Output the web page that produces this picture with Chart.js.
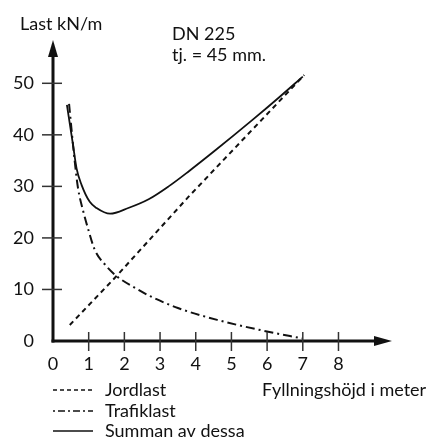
<!DOCTYPE html>
<html>
<head>
<meta charset="utf-8">
<script src="https://cdn.jsdelivr.net/npm/chart.js@4"></script>
<style>
  html, body { margin: 0; padding: 0; background: #fff; }
  #wrap { width: 430px; height: 439px; position: relative; }
</style>
</head>
<body>
<div id="wrap"><canvas id="grafico"></canvas></div>
<script>
// Fyllningshöjd (m) och last (kN/m)
const jordX = [0.47, 1.78, 3.8, 7.04];
const jordY = [3.1, 12.6, 28.0, 51.6];

const trafikX = [0.45, 0.61, 0.7, 0.85, 0.99, 1.17, 1.46, 1.78, 2.3, 2.72, 3.5, 4.6, 5.96, 6.98];
const trafikY = [46.0, 34.8, 29.7, 25.1, 21.6, 17.7, 14.8, 12.6, 10.3, 8.7, 6.4, 4.1, 1.9, 0.5];

const summaX = [0.39, 0.56, 0.66, 0.8, 1.03, 1.22, 1.6, 2.11, 2.68, 3.24, 3.8, 4.55, 5.59, 6.34, 7.0];
const summaY = [45.8, 38.1, 33.5, 30.3, 27.0, 25.8, 24.7, 25.8, 27.5, 30.0, 32.9, 37.0, 42.9, 47.3, 51.3];

const xTicks = [0, 1, 2, 3, 4, 5, 6, 7, 8];
const yTicks = [0, 10, 20, 30, 40, 50];

const FONT = "18px Lato";
const INK = "#111";

function punkter(xs, ys) {
    return xs.map((x, i) => ({ x, y: ys[i] }));
}

// axlar, pilar, texter och förklaring ritas för hand
const axlar = {
    id: "axlar",
    afterDraw(chart) {
        const ctx = chart.ctx;
        const sx = chart.scales.x;
        const sy = chart.scales.y;
        const x0 = sx.getPixelForValue(0);
        const y0 = sy.getPixelForValue(0);
        const xEnd = chart.chartArea.right;
        const yTop = chart.chartArea.top;

        ctx.save();
        ctx.strokeStyle = INK;
        ctx.fillStyle = INK;
        ctx.setLineDash([]);

        // y-axel
        ctx.lineWidth = 3;
        ctx.beginPath();
        ctx.moveTo(x0, y0 + 1.5);
        ctx.lineTo(x0, yTop + 14);
        ctx.stroke();
        ctx.beginPath();
        ctx.moveTo(x0, yTop);
        ctx.lineTo(x0 - 5, yTop + 17);
        ctx.lineTo(x0 + 5, yTop + 17);
        ctx.closePath();
        ctx.fill();

        // x-axel
        ctx.beginPath();
        ctx.moveTo(x0 - 1.5, y0);
        ctx.lineTo(xEnd - 14, y0);
        ctx.stroke();
        ctx.beginPath();
        ctx.moveTo(xEnd, y0);
        ctx.lineTo(xEnd - 18, y0 - 5);
        ctx.lineTo(xEnd - 18, y0 + 5);
        ctx.closePath();
        ctx.fill();

        // streck
        ctx.lineWidth = 1.5;
        ctx.strokeStyle = "#333";
        ctx.font = FONT;
        ctx.textBaseline = "middle";
        ctx.textAlign = "right";
        yTicks.forEach(v => {
            const py = sy.getPixelForValue(v);
            if (v > 0) {
                ctx.beginPath();
                ctx.moveTo(x0 - 11, py);
                ctx.lineTo(x0 + 9, py);
                ctx.stroke();
            }
            ctx.fillText(String(v), 34, py);
        });
        ctx.textAlign = "center";
        xTicks.forEach(v => {
            const px = sx.getPixelForValue(v);
            if (v > 0) {
                ctx.beginPath();
                ctx.moveTo(px, y0 - 9);
                ctx.lineTo(px, y0 + 10);
                ctx.stroke();
            }
            ctx.fillText(String(v), px, y0 + 23);
        });

        // rubriker
        ctx.textAlign = "left";
        ctx.fillText("Last kN/m", 20, 24);
        ctx.fillText("DN 225", 172, 34);
        ctx.fillText("tj. = 45 mm.", 172, 55);
        ctx.fillText("Fyllningshöjd i meter", 262, 390);

        // förklaring
        ctx.strokeStyle = INK;
        const rader = [
            { text: "Jordlast", dash: [4, 3], y: 390 },
            { text: "Trafiklast", dash: [2, 3, 7, 3], y: 411 },
            { text: "Summan av dessa", dash: [], y: 431 }
        ];
        rader.forEach(r => {
            ctx.setLineDash(r.dash);
            ctx.lineWidth = 1.5;
            ctx.beginPath();
            ctx.moveTo(53, r.y);
            ctx.lineTo(93, r.y);
            ctx.stroke();
            ctx.fillText(r.text, 105, r.y);
        });
        ctx.restore();
    }
};

new Chart(document.getElementById("grafico"), {
    type: "line",
    data: {
        datasets: [
            {
                label: "Jordlast",
                data: punkter(jordX, jordY),
                borderColor: INK,
                borderWidth: 2,
                borderDash: [5, 4],
                pointRadius: 0,
                tension: 0
            },
            {
                label: "Trafiklast",
                data: punkter(trafikX, trafikY),
                borderColor: INK,
                borderWidth: 2,
                borderDash: [9, 4, 2, 4],
                pointRadius: 0,
                cubicInterpolationMode: "monotone"
            },
            {
                label: "Summan av dessa",
                data: punkter(summaX, summaY),
                borderColor: INK,
                borderWidth: 1.8,
                pointRadius: 0,
                cubicInterpolationMode: "monotone"
            }
        ]
    },
    options: {
        responsive: true,
        maintainAspectRatio: false,
        animation: false,
        layout: { padding: { left: 53, top: 40, right: 38, bottom: 98 } },
        plugins: {
            legend: { display: false },
            tooltip: { enabled: false }
        },
        scales: {
            x: { type: "linear", min: 0, max: 9.5, display: false },
            y: { type: "linear", min: 0, max: 58.4, display: false }
        }
    },
    plugins: [axlar]
});
</script>
</body>
</html>
